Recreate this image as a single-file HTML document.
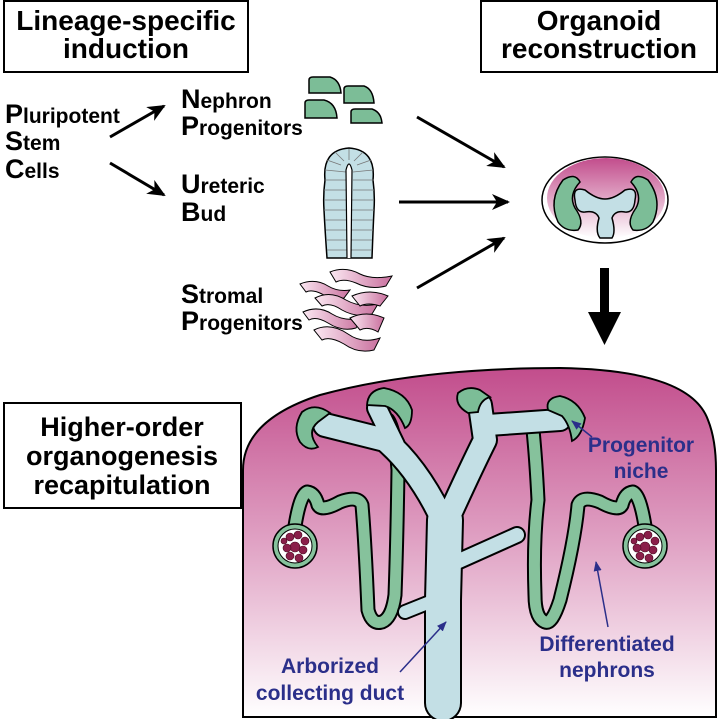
<!DOCTYPE html>
<html><head><meta charset="utf-8"><style>
html,body{margin:0;padding:0;background:#fff}
svg{display:block}
text{font-family:"Liberation Sans",Arial,sans-serif;font-weight:bold}
</style></head><body>
<svg width="719" height="719" viewBox="0 0 719 719" xmlns="http://www.w3.org/2000/svg">
<defs>
<linearGradient id="bg" x1="0" y1="0" x2="0" y2="1">
<stop offset="0" stop-color="#c24d8c"/><stop offset="0.5" stop-color="#e0a2c4"/><stop offset="1" stop-color="#ffffff"/>
</linearGradient>
<linearGradient id="org" x1="0" y1="0" x2="0" y2="1">
<stop offset="0" stop-color="#c24d8c"/><stop offset="1" stop-color="#ffffff"/>
</linearGradient>
<linearGradient id="str" x1="0" y1="0" x2="1" y2="0">
<stop offset="0" stop-color="#fbe8f2"/><stop offset="1" stop-color="#c9709e"/>
</linearGradient>
<marker id="ah2" markerWidth="18" markerHeight="16" refX="16" refY="8" orient="auto" markerUnits="userSpaceOnUse">
<path d="M0,0 L18,8 L0,16 L5,8 Z" fill="#000"/></marker>
<marker id="bh" markerWidth="10" markerHeight="8" refX="9" refY="4" orient="auto" markerUnits="userSpaceOnUse">
<path d="M0,0 L10,4 L0,8 Z" fill="#2b2f8a"/></marker>
</defs>

<rect x="4" y="1" width="244" height="71" fill="#fff" stroke="#000" stroke-width="2"/>
<text x="126" y="30" font-size="28" text-anchor="middle">Lineage-specific</text>
<text x="126" y="58" font-size="28" text-anchor="middle">induction</text>
<rect x="481" y="1" width="236" height="71" fill="#fff" stroke="#000" stroke-width="2"/>
<text x="599" y="30" font-size="28" text-anchor="middle">Organoid</text>
<text x="599" y="58" font-size="28" text-anchor="middle">reconstruction</text>

<g font-size="21">
<text x="5" y="123"><tspan font-size="27">P</tspan>luripotent</text>
<text x="5" y="150"><tspan font-size="27">S</tspan>tem</text>
<text x="5" y="178"><tspan font-size="27">C</tspan>ells</text>
<text x="181" y="108"><tspan font-size="27">N</tspan>ephron</text>
<text x="181" y="135"><tspan font-size="27">P</tspan>rogenitors</text>
<text x="181" y="193"><tspan font-size="27">U</tspan>reteric</text>
<text x="181" y="221"><tspan font-size="27">B</tspan>ud</text>
<text x="181" y="303"><tspan font-size="27">S</tspan>tromal</text>
<text x="181" y="330"><tspan font-size="27">P</tspan>rogenitors</text>
</g>

<g stroke="#000" stroke-width="3" fill="none">
<line x1="110" y1="137" x2="164" y2="106" marker-end="url(#ah2)"/>
<line x1="110" y1="163" x2="164" y2="195" marker-end="url(#ah2)"/>
<line x1="417" y1="117" x2="504" y2="167" marker-end="url(#ah2)"/>
<line x1="399" y1="202" x2="508" y2="202" marker-end="url(#ah2)"/>
<line x1="417" y1="288" x2="504" y2="238" marker-end="url(#ah2)"/>
</g>
<path d="M600,268 h9 v44 h12 l-16.5,33 l-16.5,-33 h12 z" fill="#000"/>

<g fill="#7cbd97" stroke="#000" stroke-width="1.5">
<path d="M309,93 V80 Q309,77 313,77 H330 Q340,80 341,93 Z"/>
<path d="M344,103 V89 Q344,86 348,86 H364 Q373,89 374,103 Z"/>
<path d="M305,118 V103 Q305,100 309,100 H324 Q336,103 337,118 Z"/>
<path d="M351,123 V112 Q351,109 355,109 H372 Q381,112 382,123 Z"/>
</g>

<path d="M327,258 Q325,230 324,210 Q323,195 325,180 Q322,150 349,148 Q376,150 373,180 Q375,195 374,210 Q373,230 372,258 Z" fill="#c3dfe5" stroke="#000" stroke-width="1.5"/>
<g stroke="#777" stroke-width="0.8">
<line x1="325" y1="170" x2="346" y2="172"/><line x1="325" y1="180" x2="346" y2="180"/><line x1="324" y1="190" x2="346" y2="190"/>
<line x1="324" y1="200" x2="347" y2="200"/><line x1="324" y1="210" x2="347" y2="210"/><line x1="325" y1="220" x2="348" y2="220"/>
<line x1="326" y1="230" x2="348" y2="230"/><line x1="326" y1="240" x2="349" y2="240"/><line x1="327" y1="250" x2="349" y2="250"/>
<line x1="353" y1="172" x2="373" y2="170"/><line x1="353" y1="180" x2="374" y2="180"/><line x1="353" y1="190" x2="374" y2="190"/>
<line x1="352" y1="200" x2="374" y2="200"/><line x1="352" y1="210" x2="374" y2="210"/><line x1="351" y1="220" x2="373" y2="220"/>
<line x1="351" y1="230" x2="373" y2="230"/><line x1="350" y1="240" x2="372" y2="240"/><line x1="350" y1="250" x2="372" y2="250"/>
<line x1="349" y1="160" x2="349" y2="149"/><line x1="344" y1="161" x2="335" y2="152"/><line x1="354" y1="161" x2="363" y2="152"/>
<line x1="341" y1="165" x2="327" y2="160"/><line x1="357" y1="165" x2="371" y2="160"/>
</g>
<path d="M347,258 L346,170 Q349,158 352,170 L351,258" fill="#fff" stroke="#000" stroke-width="1.2"/>

<!-- stromal -->
<g fill="url(#str)" stroke="#000" stroke-width="1">
<path d="M330,272 Q345,266 360,274 Q372,280 392,276 L386,286 Q370,290 356,283 Q344,278 336,282 Z"/>
<path d="M300,284 Q315,278 328,286 Q338,292 350,290 L344,298 Q332,300 322,294 Q312,289 306,292 Z"/>
<path d="M315,298 Q330,290 346,300 Q360,308 378,304 L372,314 Q356,318 342,310 Q330,302 322,306 Z"/>
<path d="M352,296 Q370,288 388,296 L380,306 Q368,302 360,306 Z"/>
<path d="M303,312 Q318,305 332,314 Q345,322 362,318 L356,328 Q342,332 328,323 Q316,316 309,320 Z"/>
<path d="M350,318 Q366,310 384,318 L378,332 Q368,326 360,330 Z"/>
<path d="M314,330 Q330,322 348,334 Q362,344 380,338 L374,350 Q358,354 344,344 Q330,336 322,340 Z"/>
</g>

<ellipse cx="605" cy="200" rx="63" ry="43" fill="#fff" stroke="#000" stroke-width="1.5"/>
<ellipse cx="606" cy="198" rx="59" ry="40" fill="url(#org)"/>
<path d="M563,180 Q575,172 580,182 Q568,195 575,208 Q585,222 578,230 Q565,232 558,222 Q548,200 563,180 Z" fill="#7cbd97" stroke="#000" stroke-width="1.5"/>
<path d="M648,180 Q636,172 631,182 Q643,195 636,208 Q626,222 633,230 Q646,232 653,222 Q663,200 648,180 Z" fill="#7cbd97" stroke="#000" stroke-width="1.5"/>
<path d="M575,200 Q572,186 585,190 Q596,199 605,199 Q614,199 625,190 Q638,186 635,200 Q634,213 625,212 Q615,210 612,218 Q616,232 612,238 L600,238 Q595,232 599,218 Q596,210 585,212 Q576,213 575,200 Z" fill="#c3dfe5" stroke="#000" stroke-width="1.5"/>

<path d="M243,717 V470 Q243,420 320,395 Q420,368 560,368 Q690,370 708,420 Q716,440 716,470 V717 Z" fill="url(#bg)" stroke="#000" stroke-width="2"/>

<rect x="4" y="403" width="237" height="105" fill="#fff" stroke="#000" stroke-width="2"/>
<text x="122" y="436" font-size="27" text-anchor="middle">Higher-order</text>
<text x="122" y="465" font-size="27" text-anchor="middle">organogenesis</text>
<text x="122" y="494" font-size="27" text-anchor="middle">recapitulation</text>

<g fill="none" stroke-linecap="round" stroke-linejoin="round">
<path d="M295,526 Q300,495 307,492 Q315,493 318,505 Q322,512 340,502 Q358,495 362,505 Q365,540 368,610 Q372,625 382,622 Q392,618 395,595 Q397,540 398,470 Q395,430 388,420" stroke="#000" stroke-width="15"/>
<path d="M295,526 Q300,495 307,492 Q315,493 318,505 Q322,512 340,502 Q358,495 362,505 Q365,540 368,610 Q372,625 382,622 Q392,618 395,595 Q397,540 398,470 Q395,430 388,420" stroke="#86c29c" stroke-width="11"/>
<path d="M645,526 Q640,495 633,492 Q625,493 622,505 Q618,512 600,502 Q582,495 578,505 Q575,540 560,600 Q552,625 545,622 Q535,618 535,595 Q533,540 538,500 Q536,460 533,430" stroke="#000" stroke-width="15"/>
<path d="M645,526 Q640,495 633,492 Q625,493 622,505 Q618,512 600,502 Q582,495 578,505 Q575,540 560,600 Q552,625 545,622 Q535,618 535,595 Q533,540 538,500 Q536,460 533,430" stroke="#86c29c" stroke-width="11"/>
</g>

<g fill="none" stroke-linecap="round" stroke-linejoin="round">
<g stroke="#000">
<path d="M443,703 L443,600 L445,520" stroke-width="38"/>
<path d="M445,525 Q420,470 385,440 L325,425" stroke-width="26"/>
<path d="M395,445 L377,408" stroke-width="22"/>
<path d="M445,525 Q470,470 485,440 L480,405" stroke-width="26"/>
<path d="M488,425 L560,420" stroke-width="24"/>
<path d="M450,565 L517,535" stroke-width="18"/>
<path d="M440,598 L405,612" stroke-width="16"/>
</g>
<g stroke="#c3dfe5">
<path d="M443,703 L443,600 L445,520" stroke-width="34"/>
<path d="M445,525 Q420,470 385,440 L325,425" stroke-width="22"/>
<path d="M395,445 L377,408" stroke-width="18"/>
<path d="M445,525 Q470,470 485,440 L480,405" stroke-width="22"/>
<path d="M488,425 L560,420" stroke-width="20"/>
<path d="M450,565 L517,535" stroke-width="14"/>
<path d="M440,598 L405,612" stroke-width="12"/>
</g>
</g>

<g fill="#7cbd97" stroke="#000" stroke-width="1.8">
<path d="M330,413 Q315,402 302,412 Q292,428 300,442 Q308,452 318,447 Q306,432 318,422 Z"/>
<path d="M367,405 Q368,390 384,388 Q406,392 412,410 Q412,425 405,428 Q398,410 385,406 Z"/>
<path d="M468,413 Q454,405 458,393 Q468,385 480,390 L490,397 Q480,400 478,412 Z"/>
<path d="M548,410 Q545,398 560,396 Q578,400 585,418 Q582,436 572,441 Q570,425 562,416 Z"/>
</g>

<g>
<circle cx="295" cy="546" r="22" fill="#86c29c" stroke="#000" stroke-width="1.5"/>
<circle cx="295" cy="546" r="17" fill="#fff" stroke="#000" stroke-width="1"/>
<circle cx="645" cy="546" r="22" fill="#86c29c" stroke="#000" stroke-width="1.5"/>
<circle cx="645" cy="546" r="17" fill="#fff" stroke="#000" stroke-width="1"/>
<g fill="#8a1f4a" stroke="#4a0a20" stroke-width="0.6">
<circle cx="290" cy="537" r="4"/><circle cx="298" cy="535" r="4"/><circle cx="305" cy="541" r="4"/><circle cx="303" cy="550" r="4"/>
<circle cx="295" cy="547" r="5"/><circle cx="287" cy="548" r="4"/><circle cx="290" cy="556" r="4"/><circle cx="299" cy="558" r="4"/><circle cx="284" cy="541" r="3"/>
<circle cx="640" cy="537" r="4"/><circle cx="648" cy="535" r="4"/><circle cx="655" cy="541" r="4"/><circle cx="653" cy="550" r="4"/>
<circle cx="645" cy="547" r="5"/><circle cx="637" cy="548" r="4"/><circle cx="640" cy="556" r="4"/><circle cx="649" cy="558" r="4"/><circle cx="634" cy="541" r="3"/>
</g>
</g>

<g fill="#2b2f8a" font-size="21">
<text x="641" y="452" text-anchor="middle">Progenitor</text>
<text x="641" y="478" text-anchor="middle">niche</text>
<text x="607" y="651" text-anchor="middle">Differentiated</text>
<text x="607" y="677" text-anchor="middle">nephrons</text>
<text x="330" y="673" text-anchor="middle">Arborized</text>
<text x="330" y="700" text-anchor="middle">collecting duct</text>
</g>
<g stroke="#2b2f8a" stroke-width="1.5">
<line x1="592" y1="437" x2="572" y2="421" marker-end="url(#bh)"/>
<line x1="608" y1="627" x2="596" y2="562" marker-end="url(#bh)"/>
<line x1="400" y1="672" x2="446" y2="622" marker-end="url(#bh)"/>
</g>
</svg>
</body></html>
